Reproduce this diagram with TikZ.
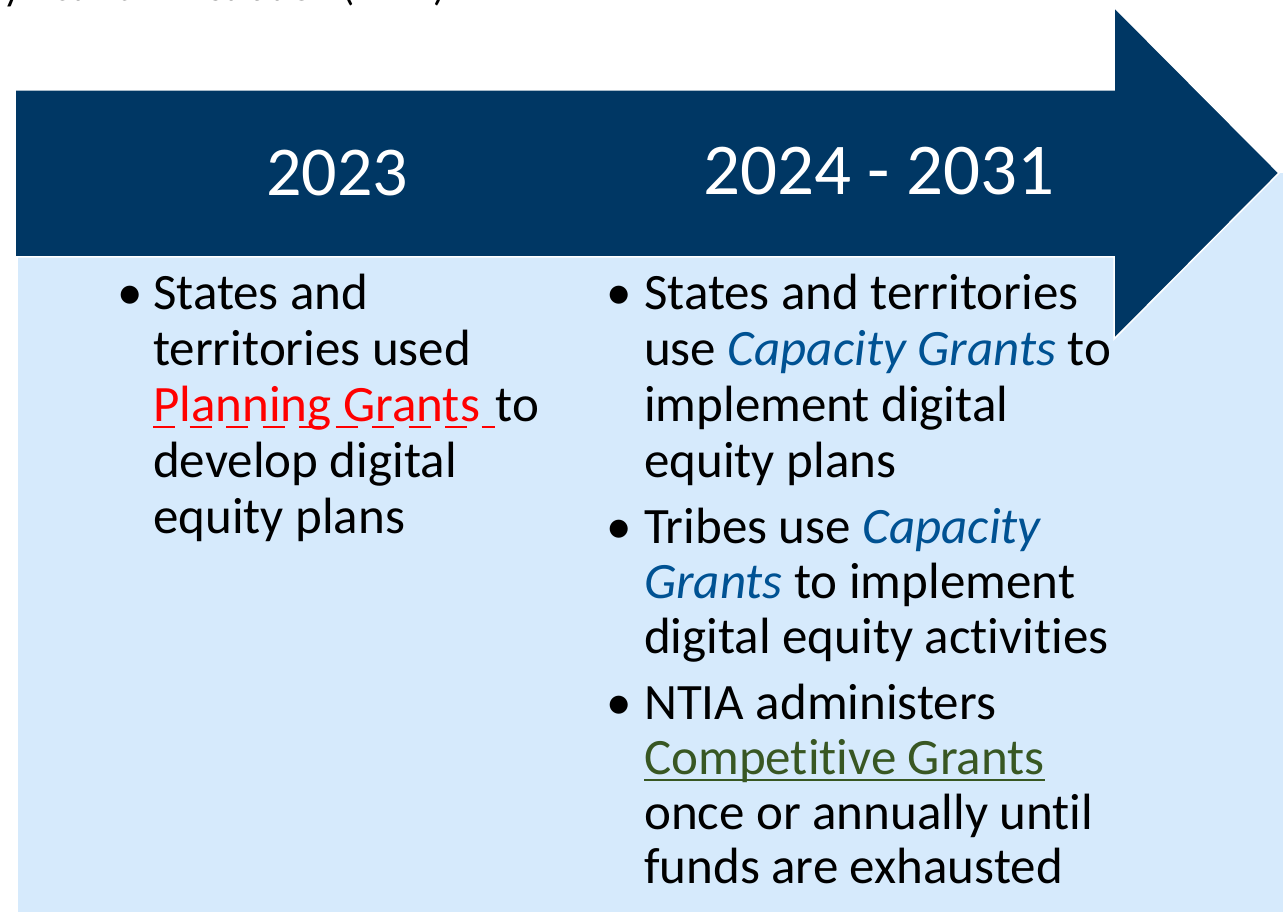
\documentclass[tikz,border=0pt]{standalone}
\usepackage{fontspec}
\setmainfont{Carlito}[Ligatures=NoCommon]
\definecolor{navy}{RGB}{0,55,100}
\definecolor{paleblue}{RGB}{214,234,252}
\definecolor{capblue}{RGB}{0,82,147}
\definecolor{compgreen}{RGB}{56,87,35}
\begin{document}
\begin{tikzpicture}[x=1pt,y=-1pt,
  txt/.style={anchor=base west, inner sep=0pt, text=black, font=\fontsize{51}{56}\selectfont},
  bul/.style={anchor=base, inner sep=0pt, text=black, font=\fontsize{51}{56}\selectfont},
  year/.style={anchor=base, inner sep=0pt, text=white, font=\fontsize{70}{84}\selectfont}]
\useasboundingbox (0,0) rectangle (1283,912);
% cut-off title
\begin{scope}
\clip (0,0) rectangle (1283,20);
\node[anchor=base east, inner sep=0pt, font=\fontsize{40}{48}\selectfont] (title) at (446,1) {Digital Equity Act Administration (NTIA)};
\end{scope}
% background panel
\fill[paleblue] (18,173) rectangle (1283,912);
% arrow
\path[fill=navy, draw=white, line width=1.5pt] (15,90) -- (1114,90) -- (1114,7) -- (1279,173) -- (1114,339) -- (1114,257) -- (15,257) -- cycle;
\node[year] (y1) at (337,196) {2023};
\node[year, font=\fontsize{73}{86}\selectfont] (y2) at (879,195) {2024 - 2031};
% left column
\node[bul] (b1) at (130,309) {•};
\node[txt] (l1) at (153,309) {States and};
\node[txt] (l2) at (153,365) {territories used};
\node[txt, text=red] (pg) at (153,421) {Planning Grants\kern0.3em};
\node[txt] (l3b) at (pg.base east) {to};
\node[txt] (l4) at (153,477) {develop digital};
\node[txt] (l5) at (153,533) {equity plans};
\draw[red, line width=2.6pt, dash pattern=on 22pt off 14.5pt] ([yshift=-6pt]pg.base west) -- ([yshift=-6pt]pg.base east);
% right column
\node[bul] (b2) at (619,309) {•};
\node[txt] (r1) at (644,309) {States and territories};
\node[txt] (r2) at (644,365) {use \textcolor{capblue}{\itshape Capacity Grants} to};
\node[txt] (r3) at (644,421) {implement digital};
\node[txt] (r4) at (644,477) {equity plans};
\node[bul] (b3) at (619,543) {•};
\node[txt] (r5) at (644,543) {Tribes use \textcolor{capblue}{\itshape Capacity}};
\node[txt] (r6) at (644,598) {\textcolor{capblue}{\itshape Grants} to implement};
\node[txt] (r7) at (644,653) {digital equity activities};
\node[bul] (b4) at (619,719) {•};
\node[txt] (r8) at (644,719) {NTIA administers};
\node[txt, text=compgreen] (cg) at (644,774) {Competitive Grants};
\draw[compgreen, line width=2.8pt] ([yshift=-6pt]cg.base west) -- ([yshift=-6pt]cg.base east);
\node[txt] (r10) at (644,829) {once or annually until};
\node[txt] (r11) at (644,883) {funds are exhausted};
\end{tikzpicture}
\end{document}
